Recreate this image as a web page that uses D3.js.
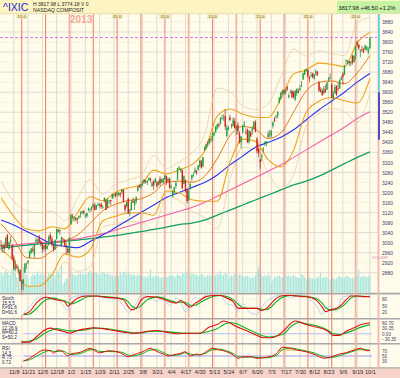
<!DOCTYPE html>
<html><head><meta charset="utf-8">
<script src="https://cdn.jsdelivr.net/npm/d3@7"></script>
<style>body{margin:0;background:#fffcee}svg{display:block;font-family:"Liberation Sans",Arial,sans-serif}</style>
</head><body><svg id="c" width="400" height="378"></svg>
<script>
// ---------------- DATA ----------------
const closeP=[2986,2988,2977,3020,2982,3000,3012,2937,2896,2905,
2904,2884,2847,2837,2853,2916,2917,2927,2967,2977,
2968,2992,3012,3010,3002,2997,2974,2989,2978,2987,
3022,3014,2992,2971,3011,3055,3044,3050,3021,3013,
2990,2986,2960,3020,3112,3101,3102,3099,3092,3106,
3122,3126,3118,3111,3118,3136,3135,3143,3154,3130,
3150,3154,3154,3142,3142,3179,3131,3172,3168,3165,
3194,3192,3186,3197,3199,3192,3214,3164,3131,3162,
3116,3130,3162,3160,3170,3182,3224,3222,3232,3244,
3253,3242,3245,3259,3249,3238,3229,3254,3223,3245,
3235,3252,3257,3268,3239,3255,3219,3225,3204,3222,
3238,3297,3300,3295,3216,3265,3205,3166,3206,3234,
3269,3270,3290,3279,3307,3329,3299,3341,3379,3393,
3397,3413,3409,3437,3439,3463,3472,3465,3499,3496,
3502,3463,3459,3459,3489,3468,3491,3456,3465,3445,
3401,3424,3469,3474,3437,3400,3445,3424,3452,3482,
3443,3365,3357,3321,3348,3376,3402,3403,3434,3433,
3444,3479,3485,3504,3521,3578,3600,3607,3598,3610,
3611,3588,3600,3579,3580,3605,3613,3599,3616,3626,
3676,3690,3693,3666,3654,3669,3660,3670,3684,3669,
3606,3603,3589,3614,3600,3639,3658,3658,3579,3593,
3620,3590,3613,3649,3659,3660,3706,3729,3725,3716,
3722,3718,3746,3784,3789,3775,3765,3768,3761,3787,
3782,3771,3817.98];
const openP=[2990,2980,2990,2985,3030,2975,3005,2990,2940,2895,
2905,2880,2890,2845,2838,2880,2915,2920,2940,2960,
2975,2950,3005,3010,3025,3005,2995,2975,2995,2975,
2990,3030,3015,2990,2975,3015,3050,3045,2990,3015,
3010,2990,2975,2960,3075,3105,3100,3090,3098,3100,
3115,3120,3125,3110,3105,3130,3135,3135,3145,3150,
3135,3150,3150,3155,3140,3165,3170,3140,3165,3170,
3175,3188,3195,3195,3190,3198,3200,3210,3150,3145,
3175,3125,3130,3165,3150,3165,3205,3230,3225,3240,
3240,3245,3240,3250,3255,3225,3245,3240,3240,3230,
3255,3240,3240,3255,3265,3245,3255,3220,3185,3205,
3225,3250,3295,3290,3290,3235,3250,3210,3170,3215,
3255,3265,3280,3285,3290,3305,3325,3305,3370,3375,
3400,3395,3412,3410,3430,3440,3455,3470,3475,3495,
3500,3505,3425,3450,3500,3470,3465,3485,3455,3470,
3435,3400,3440,3470,3440,3450,3400,3440,3445,3455,
3480,3415,3375,3330,3340,3370,3395,3395,3420,3435,
3425,3465,3495,3500,3505,3560,3575,3595,3605,3600,
3620,3580,3600,3605,3600,3570,3595,3605,3610,3625,
3650,3670,3685,3688,3660,3665,3675,3655,3675,3680,
3640,3610,3605,3595,3610,3610,3650,3655,3630,3575,
3595,3625,3615,3615,3650,3675,3670,3725,3720,3722,
3715,3745,3720,3745,3800,3790,3765,3770,3770,3770,
3770,3760,3774.18];
const highP=[3010,2995,3000,3022,3035,3005,3025,2995,2950,2930,
2915,2905,2895,2850,2855,2918,2920,2930,2967,2978,
2985,2995,3020,3015,3030,3010,2998,2990,2998,2995,
3030,3040,3025,2995,3012,3055,3055,3052,3025,3020,
3015,3000,2985,3020,3112,3115,3104,3102,3100,3110,
3125,3128,3130,3115,3120,3140,3136,3145,3155,3160,
3150,3160,3156,3160,3150,3180,3175,3175,3170,3172,
3196,3194,3200,3202,3200,3200,3214,3212,3155,3165,
3180,3135,3170,3180,3172,3185,3225,3232,3235,3248,
3254,3250,3250,3260,3258,3245,3248,3258,3245,3247,
3265,3255,3258,3270,3268,3260,3258,3232,3210,3222,
3245,3298,3306,3296,3292,3268,3252,3212,3210,3240,
3272,3280,3300,3290,3310,3330,3330,3342,3385,3395,
3405,3415,3425,3437,3440,3465,3475,3478,3500,3510,
3512,3532,3470,3465,3510,3475,3500,3498,3467,3480,
3445,3425,3470,3485,3455,3455,3450,3445,3465,3485,
3490,3420,3380,3335,3355,3380,3405,3405,3445,3450,
3450,3485,3500,3510,3525,3580,3600,3610,3612,3612,
3625,3595,3610,3610,3605,3610,3615,3615,3630,3645,
3678,3690,3695,3690,3665,3680,3678,3672,3690,3685,
3642,3620,3615,3625,3630,3640,3660,3675,3635,3605,
3630,3628,3640,3652,3665,3680,3708,3730,3728,3725,
3723,3750,3748,3785,3805,3792,3772,3785,3778,3790,
3783,3780,3817.98];
const lowP=[2970,2960,2960,2985,2980,2970,2995,2930,2890,2885,
2895,2875,2845,2812,2810,2880,2895,2915,2940,2955,
2960,2940,3000,2995,3000,2985,2960,2965,2970,2972,
2988,3005,2985,2965,2970,3012,3040,3030,2985,3010,
2985,2955,2958,2955,3070,3095,3085,3085,3075,3095,
3100,3112,3112,3098,3100,3125,3120,3125,3140,3128,
3130,3145,3140,3135,3135,3160,3130,3138,3155,3150,
3175,3180,3180,3185,3185,3180,3195,3160,3120,3140,
3116,3105,3128,3158,3130,3155,3205,3218,3215,3225,
3235,3235,3230,3245,3240,3222,3210,3238,3220,3228,
3225,3238,3235,3252,3230,3240,3215,3212,3180,3195,
3215,3248,3290,3280,3215,3233,3200,3155,3165,3210,
3245,3262,3275,3270,3288,3300,3295,3300,3365,3372,
3380,3390,3400,3405,3425,3438,3450,3460,3470,3490,
3485,3450,3420,3448,3485,3455,3463,3455,3430,3430,
3395,3375,3435,3460,3430,3398,3395,3418,3430,3452,
3440,3355,3340,3294,3325,3360,3385,3385,3418,3420,
3420,3455,3480,3495,3495,3555,3572,3590,3590,3590,
3605,3575,3595,3578,3575,3565,3585,3595,3605,3620,
3650,3668,3682,3658,3640,3660,3655,3650,3665,3665,
3600,3598,3585,3592,3598,3608,3642,3650,3578,3572,
3593,3585,3605,3612,3648,3630,3668,3710,3712,3705,
3705,3710,3718,3730,3780,3768,3740,3760,3755,3768,
3765,3750,3774.18];
const volume=[19,17,19,22,20,18,17,23,24,19,
15,18,20,21,25,19,17,14,7,16,
18,17,18,21,17,18,19,17,16,16,
19,18,17,18,17,21,19,18,26,8,
11,14,13,19,22,18,17,16,17,18,
19,18,17,19,18,20,22,18,19,20,
19,18,17,18,20,19,18,18,18,17,
17,14,17,16,16,20,17,20,21,17,
20,18,17,18,17,16,18,17,16,17,
15,16,15,17,23,15,16,16,17,16,
14,15,15,16,15,16,17,17,17,15,
16,18,17,16,19,18,19,21,20,17,
19,18,18,17,16,17,18,17,16,15,
17,17,17,16,16,17,18,18,21,17,
17,19,18,13,16,17,16,19,18,17,
18,17,17,15,16,16,16,14,15,15,
17,20,25,19,17,16,17,16,18,16,
10,13,16,15,16,17,15,15,16,17,
16,17,15,16,17,16,15,14,15,18,
17,15,13,14,15,14,14,13,14,15,
16,19,14,15,15,15,13,13,16,14,
13,14,16,16,15,15,15,16,16,15,
14,14,15,17,16,22,15,16,16,16,
15,16,17];

const tickLabels=["11/8","11/21","12/5","12/18","1/2","1/15","1/29","2/11","2/25","3/8","3/21","4/4","4/17","4/30","5/13","5/24","6/7","6/20","7/3","7/17","7/30","8/12","8/23","9/6","9/19","10/1"];
const tickIdx=[8,17,26,35,44,53,62,71,80,89,98,107,116,125,134,143,152,161,170,179,188,197,206,215,224,232];
const priceTicks=[3880,3840,3800,3760,3720,3680,3640,3600,3560,3520,3480,3440,3400,3360,3320,3280,3240,3200,3160,3120,3080,3040,3000,2960,2920,2880];

// overlays sampled every 8 bars
const ovIdx=[0,8,16,24,32,40,48,56,64,72,80,88,96,104,112,120,128,136,144,152,160,168,176,184,192,200,208,216,224,232];
const bbUpper=[3179,3105,3054,3047,3063,3055,3118,3183,3167,3201,3218,3231,3289,3274,3291,3311,3365,3505,3533,3513,3500,3499,3574,3673,3689,3716,3711,3702,3797,3838];
const bbMid=[3075,3015,2940,2937,2967,3005,3030,3077,3127,3153,3168,3175,3199,3240,3245,3241,3265,3335,3427,3463,3452,3415,3438,3521,3605,3640,3645,3634,3677,3746];
const bbLower=[2971,2925,2826,2827,2871,2955,2942,2971,3087,3105,3118,3119,3109,3206,3199,3171,3165,3165,3321,3413,3404,3331,3302,3369,3521,3564,3579,3566,3557,3654];
const envUpper=[3247,3164,3128,3119,3125,3088,3175,3252,3193,3232,3251,3267,3348,3296,3321,3357,3430,3616,3602,3546,3531,3554,3662,3772,3744,3765,3754,3746,3875,3898];
const envLower=[2903,2866,2752,2755,2809,2922,2885,2902,3061,3074,3085,3083,3050,3184,3169,3125,3100,3054,3252,3380,3373,3276,3214,3270,3466,3515,3536,3522,3479,3594];
const ma50=[3090,3070,3045,3020,2995,2985,2980,3004,3030,3060,3090,3120,3150,3180,3200,3220,3240,3270,3310,3345,3380,3400,3420,3450,3490,3530,3565,3600,3640,3675];
const ma100=[2985,2990,2995,3000,3003,3008,3015,3025,3035,3050,3065,3080,3095,3110,3125,3140,3160,3185,3210,3235,3260,3285,3310,3340,3370,3400,3430,3460,3495,3522];
const ma200=[2978,2984,2990,2995,3000,3005,3010,3016,3022,3028,3036,3044,3053,3062,3072,3078,3090,3110,3130,3150,3170,3190,3210,3230,3245,3265,3290,3315,3340,3362];

// stochastics
const stIdx=[13,18,22,26,29,33,37,40,42,44,48,54,60,66,73,77,80,82,85,88,92,98,102,106,110,113,116,119,122,125,129,134,138,142,146,149,152,157,161,164,167,170,173,178,182,186,190,194,198,202,204,207,211,214,217,220,224,228,232];
const stochK=[8,23,60,85,89,80,74,69,48,60,85,95,95,89,85,77,46,31,38,76,92,89,80,69,62,74,58,43,61,74,92,97,97,85,69,39,38,38,38,28,38,61,84,97,97,95,92,89,77,44,23,31,38,54,77,95,95,92,91.6];
const stochD=[8,12,35,65,80,85,78,73,65,58,68,90,95,92,87,82,68,50,38,50,78,91,85,75,66,66,66,52,52,64,80,94,97,92,78,58,42,38,38,34,33,45,68,92,97,96,94,91,83,62,42,30,34,44,62,85,95,94,91.6];
const stochFast=[5,45,80,90,78,82,70,40,30,85,95,98,92,85,80,50,20,30,60,95,95,70,95,50,85,70,20,60,90,80,100,98,95,60,50,25,60,15,10,45,70,85,95,98,88,95,100,80,55,10,35,45,25,80,95,97,90,90,98];

// MACD
const mcIdx=[13,18,22,27,31,35,39,43,48,54,58,64,71,77,83,87,92,98,104,110,117,125,131,136,140,144,148,154,161,165,169,173,178,182,185,188,192,198,205,209,213,217,222,226,232];
const macdLine=[-46,-46,-19,18,31,22,14,3,18,28,33,28,18,9,3,5,14,18,9,0,3,3,37,51,70,59,40,18,-9,-22,-22,-15,18,55,70,64,51,37,18,-9,-9,14,33,49,60.2];
const macdSignal=[-46,-40,-30,0,18,28,22,16,17,22,31,30,22,14,5,4,11,14,12,6,3,3,14,28,50,62,55,30,2,-12,-18,-12,0,37,55,62,55,45,22,0,-4,5,20,35,50.2];

// RSI
const rsIdx=[13,18,22,27,31,33,36,39,42,44,50,56,59,62,68,75,80,83,89,94,97,102,105,108,113,116,119,123,125,129,133,138,142,146,149,152,157,161,167,173,177,182,186,192,198,203,207,213,217,222,226,230,232];
const rsiLine=[27,41,58,74,71,61,74,67,50,58,65,81,71,63,71,63,47,54,67,81,71,58,50,54,61,67,50,58,54,67,81,74,67,54,41,47,47,41,45,58,85,81,74,67,54,41,45,58,63,74,81,71,72];
const rsiSig=[30,35,48,65,72,68,68,70,60,56,60,75,76,68,68,66,54,50,60,74,76,64,55,52,57,63,58,54,55,62,75,77,70,60,48,45,46,44,43,52,75,82,78,70,60,47,43,52,60,70,78,75,73];

const cycleIdx=[13,28,43,58,73,88,103,118,133,148,163,178,193,208,223];
const cycleLight=[43,103,118,148,178,223];
const cycleLabelIdx=[13,73,103,133,163,193,223];

// ---------------- SCALES ----------------
const N=closeP.length;
const xS=d3.scaleLinear().domain([0,232]).range([1.04,369.9]);
const yP=d3.scaleLinear().domain([2880,3880]).range([272.7,22]);
const yV=d3.scaleLinear().domain([0,28]).range([292.5,264]);
const yS=d3.scaleLinear().domain([0,100]).range([316.6,294.9]);
const yM=d3.scaleLinear().domain([-30.35,60.7]).range([339.3,322.7]);
const yR=d3.scaleLinear().domain([30,70]).range([361,351]);

const svg=d3.select("#c");
const defs=svg.append("defs");
function clip(id,x,y,w,h){defs.append("clipPath").attr("id",id).append("rect").attr("x",x).attr("y",y).attr("width",w).attr("height",h);}
clip("cm",0,14,372,279);clip("cs",0,294.5,372,23.5);clip("cd",0,319.5,372,23.5);clip("cr",0,344.5,372,22.5);

svg.append("rect").attr("width",400).attr("height",378).attr("fill","#fffcec");

// header
svg.append("rect").attr("x",0).attr("y",0).attr("width",400).attr("height",13.5).attr("fill","#fcf5c2");
svg.append("line").attr("x1",0).attr("x2",400).attr("y1",13.7).attr("y2",13.7).attr("stroke","#ddd3a0").attr("stroke-width",0.8);
svg.append("text").attr("x",3).attr("y",11).attr("font-size",10.5).attr("fill","#2424d8").text("^IXIC");
svg.append("text").attr("x",33).attr("y",5.6).attr("font-size",5).attr("fill","#222").text("H 3817.98 L 3774.18 V 0");
svg.append("text").attr("x",33).attr("y",11.6).attr("font-size",5.2).attr("fill","#222").text("NASDAQ COMPOSIT");
svg.append("rect").attr("x",337).attr("y",1).attr("width",63).attr("height",12).attr("fill","#c6f2a4");
svg.append("text").attr("x",338.5).attr("y",9.6).attr("font-size",6.2).attr("fill","#111")
 .attr("textLength",57).attr("lengthAdjust","spacingAndGlyphs").text("3817.98 +46.50 +1.2%");

// horizontal grid (main)
const gG=svg.append("g");
gG.selectAll("line.h").data(priceTicks).join("line")
 .attr("x1",0).attr("x2",378).attr("y1",d=>yP(d)).attr("y2",d=>yP(d))
 .attr("stroke",d=>((3880-d)%80===40)?"#d9d6cc":"#ebe6cf")
 .attr("stroke-dasharray",d=>((3880-d)%80===40)?null:"1.5,1.5").attr("stroke-width",0.8);
// vertical grid
gG.selectAll("line.v").data(tickIdx).join("line")
 .attr("x1",d=>xS(d)).attr("x2",d=>xS(d)).attr("y1",14).attr("y2",368)
 .attr("stroke","#d6d4cc").attr("stroke-width",0.8);

// volume
const gVol=svg.append("g").attr("clip-path","url(#cm)");
gVol.selectAll("rect").data(d3.range(N)).join("rect")
 .attr("x",i=>xS(i)-0.6).attr("width",1.15).attr("y",i=>yV(volume[i])).attr("height",i=>yV(0)-yV(volume[i]))
 .attr("fill","#a3e6df");

// indicator panels: separators & lines
function hline(y,c,w){svg.append("line").attr("x1",0).attr("x2",400).attr("y1",y).attr("y2",y).attr("stroke",c).attr("stroke-width",w);}
svg.append("rect").attr("x",0).attr("y",368).attr("width",400).attr("height",10).attr("fill","#f7d3c9");
hline(293.6,"#a8a8a8",1.6);hline(318.7,"#a8a8a8",1.6);hline(343.7,"#a8a8a8",1.6);hline(367.8,"#a8a8a8",1.2);
svg.append("line").attr("x1",0).attr("x2",372).attr("y1",yM(0)).attr("y2",yM(0)).attr("stroke","#b4b4f4").attr("stroke-width",0.9);
svg.append("line").attr("x1",0).attr("x2",372).attr("y1",yR(50)).attr("y2",yR(50)).attr("stroke","#8c8cf2").attr("stroke-width",0.9);
[20,80].forEach(v=>svg.append("line").attr("x1",0).attr("x2",372).attr("y1",yS(v)).attr("y2",yS(v)).attr("stroke","#e6e0cc").attr("stroke-width",0.6).attr("stroke-dasharray","1.5,1.5"));

// cycle lines
const gCy=svg.append("g");
gCy.selectAll("line").data(cycleIdx).join("line")
 .attr("x1",d=>xS(d)).attr("x2",d=>xS(d)).attr("y1",14).attr("y2",368)
 .attr("stroke",d=>cycleLight.includes(d)?"#f4b4a2":"#ef8468")
 .attr("stroke-width",d=>cycleLight.includes(d)?1.8:1.1);
const cl=gCy.selectAll("g.cl").data(cycleLabelIdx).join("g");
cl.append("rect").attr("x",d=>xS(d)-5.5).attr("y",14.3).attr("width",11).attr("height",4.6).attr("fill","#f6e7b4");
cl.append("text").attr("x",d=>xS(d)).attr("y",18.2).attr("text-anchor","middle").attr("font-size",4.3).attr("fill","#6a5a3a").text("15.0");

svg.append("text").attr("x",70).attr("y",22.5).attr("font-size",10).attr("font-weight","bold").attr("fill","#f2a08e").attr("opacity",0.9).text("2013");

// right-axis range marks
svg.append("line").attr("x1",378.5).attr("x2",378.5).attr("y1",14).attr("y2",368).attr("stroke","#f2b7ab").attr("stroke-width",1.8);
svg.append("line").attr("x1",379).attr("x2",379).attr("y1",yP(3880)-8).attr("y2",yP(3600)).attr("stroke","#4fd6e4").attr("stroke-width",1.6);
svg.append("line").attr("x1",379).attr("x2",379).attr("y1",yP(3600)).attr("y2",yP(3410)).attr("stroke","#2828d0").attr("stroke-width",1.6);

// overlays
const gO=svg.append("g").attr("clip-path","url(#cm)");
function ovLine(arr,color,w,op){
 const ln=d3.line().x((d,i)=>xS(ovIdx[i])).y(d=>yP(d)).curve(d3.curveMonotoneX);
 gO.append("path").attr("d",ln(arr)).attr("fill","none").attr("stroke",color).attr("stroke-width",w).attr("opacity",op||1);
}
ovLine(envUpper,"#e6cfa4",0.8);ovLine(envLower,"#e6cfa4",0.8);
ovLine(ma200,"#10a060",1.3);ovLine(ma100,"#f060a8",1.1);ovLine(ma50,"#2a36f0",1.1);
ovLine(bbUpper,"#eea21a",1.1);ovLine(bbLower,"#eea21a",1.1);ovLine(bbMid,"#e47a1c",1.0);

// candles
const gK=svg.append("g").attr("clip-path","url(#cm)");
const bars=d3.range(N);
gK.selectAll("line").data(bars).join("line")
 .attr("x1",i=>xS(i)).attr("x2",i=>xS(i)).attr("y1",i=>yP(highP[i])).attr("y2",i=>yP(lowP[i]))
 .attr("stroke",i=>closeP[i]>=openP[i]?"#0a6a2a":"#8a1010").attr("stroke-width",0.6);
gK.selectAll("rect").data(bars).join("rect")
 .attr("x",i=>xS(i)-0.65).attr("width",1.3)
 .attr("y",i=>yP(Math.max(openP[i],closeP[i])))
 .attr("height",i=>Math.max(0.7,Math.abs(yP(openP[i])-yP(closeP[i]))))
 .attr("fill",i=>closeP[i]>=openP[i]?"#18a838":"#e01818");

// last close dashed
const lastC=closeP[N-1];
svg.append("line").attr("x1",0).attr("x2",377).attr("y1",yP(lastC)).attr("y2",yP(lastC)).attr("stroke","#cc66ee").attr("stroke-width",0.9).attr("stroke-dasharray","3,2");

// price axis
const ax=svg.append("g").attr("transform","translate(380,0)").call(d3.axisRight(yP).tickValues(priceTicks).tickSize(0).tickPadding(2).tickFormat(d3.format("d")));
ax.select(".domain").remove();
ax.selectAll("text").attr("font-size",5).attr("fill","#404068").attr("font-family","Liberation Sans, Arial");
svg.append("text").attr("x",372).attr("y",259).attr("font-size",3.8).attr("fill","#e080b0").text("VOLUME");

// ---- Stoch panel
const gS=svg.append("g").attr("clip-path","url(#cs)");
function pl(g,idx,arr,ys,color,w){
 const ln=d3.line().x((d,i)=>xS(idx[i])).y(d=>ys(d)).curve(d3.curveMonotoneX);
 g.append("path").attr("d",ln(arr)).attr("fill","none").attr("stroke",color).attr("stroke-width",w);
}
pl(gS,stIdx,stochFast,yS,"#a9cdef",0.8);
pl(gS,stIdx,stochD,yS,"#10b020",1.1);
pl(gS,stIdx,stochK,yS,"#e01010",1.1);

// ---- MACD panel
const gD=svg.append("g").attr("clip-path","url(#cd)");
pl(gD,mcIdx,macdSignal,yM,"#10b020",1.1);
pl(gD,mcIdx,macdLine,yM,"#e01010",1.1);

// ---- RSI panel
const gR=svg.append("g").attr("clip-path","url(#cr)");
const ar=d3.area().x((d,i)=>xS(rsIdx[i])).y0(yR(70)).y1(d=>yR(Math.max(d,70))).curve(d3.curveMonotoneX);
gR.append("path").attr("d",ar(rsiLine)).attr("fill","#e8cf8a").attr("opacity",0.8);
pl(gR,rsIdx,rsiSig,yR,"#10b020",1.0);
pl(gR,rsIdx,rsiLine,yR,"#e01010",1.0);

// panel labels
function plabel(y0,lines){
 svg.append("rect").attr("x",0.5).attr("y",y0).attr("width",23).attr("height",lines.length*4.9+1).attr("fill","#fffcec").attr("opacity",0.85);
 lines.forEach((t,k)=>svg.append("text").attr("x",2).attr("y",y0+4.6+k*4.9).attr("font-size",4.6).attr("fill","#1c1c50").text(t));
}
plabel(295,["Stoch","15,5,5","K=91.6","D=91.6"]);
plabel(320,["MACD","12,26,9","M=60.2","S=50.2"]);
plabel(345,["RSI","14.3","R 75","0.72"]);

// right labels of panels
function raxis(ys,vals,fmt){
 const a=svg.append("g").attr("transform","translate(380,0)").call(d3.axisRight(ys).tickValues(vals).tickSize(0).tickPadding(2).tickFormat(fmt));
 a.select(".domain").remove();
 a.selectAll("text").attr("font-size",4.6).attr("fill","#404068");
}
raxis(yS,[80,50,20],d3.format("d"));
raxis(yM,[60.7,30.35,0,-30.35],d3.format(".2f"));
raxis(yR,[70,50,30],d3.format("d"));

// date axis
const dx=svg.append("g").attr("transform","translate(0,369)").call(d3.axisBottom(xS).tickValues(tickIdx).tickSize(0).tickPadding(1.5).tickFormat((d,i)=>tickLabels[i]));
dx.select(".domain").remove();
dx.selectAll("text").attr("font-size",5.6).attr("fill","#2a2a2a");
</script></body></html>
